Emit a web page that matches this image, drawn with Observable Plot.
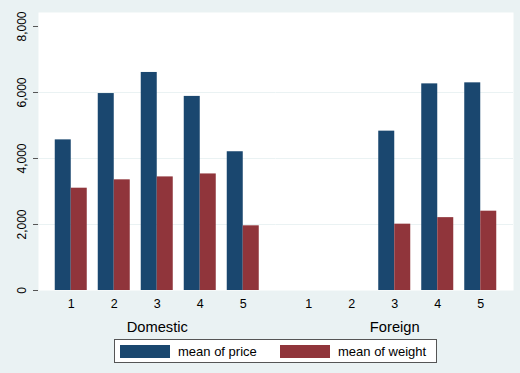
<!DOCTYPE html>
<html>
<head>
<meta charset="utf-8">
<script src="https://cdn.jsdelivr.net/npm/d3@7"></script>
<script src="https://cdn.jsdelivr.net/npm/@observablehq/plot@0.6"></script>
<style>
  html, body { margin: 0; padding: 0; background: #eaf2f3; }
  #wrap { position: relative; width: 520px; height: 373px; background: #eaf2f3; font-family: "Liberation Sans", Arial, sans-serif; overflow: hidden; }
  #chart svg { display: block; background: transparent; }
  #legend { position: absolute; left: 114px; top: 339px; width: 321px; height: 22px; background: #fff; border: 1px solid #555; box-sizing: content-box; font-size: 13px; color: #000; }
  #legend .item { position: absolute; top: 5px; height: 13px; display: flex; align-items: center; white-space: nowrap; }
  #legend .sw { width: 50px; height: 13px; margin-right: 8px; }
</style>
</head>
<body>
<div id="wrap">
  <div id="chart"></div>
  <div id="legend"></div>
</div>
<script>
// ---- data (auto.dta: mean price / weight by rep78 over foreign) ----
const groups = ["Domestic", "Foreign"];
const repCategories = [1, 2, 3, 4, 5];
const seriesNames = ["mean of price", "mean of weight"];
const seriesColors = ["#1a476f", "#90353b"];
const domesticPrice  = [4564.5, 5967.6, 6607.1, 5881.6, 4204.5];
const domesticWeight = [3100.0, 3353.8, 3442.2, 3532.2, 1960.0];
const foreignPrice   = [null, null, 4828.7, 6261.4, 6292.7];
const foreignWeight  = [null, null, 2010.0, 2207.8, 2403.3];
const yTicks = [0, 2000, 4000, 6000, 8000];
const gridTicks = [2000, 4000, 6000];

// ---- build table ----
const table = [];
const byGroup = {
  Domestic: [domesticPrice, domesticWeight],
  Foreign: [foreignPrice, foreignWeight]
};
for (const g of groups) {
  byGroup[g].forEach((vals, si) => {
    repCategories.forEach((r, i) => {
      if (vals[i] != null) table.push({group: g, rep: r, series: seriesNames[si], value: vals[i]});
    });
  });
}
const priceRows = table.filter(d => d.series === seriesNames[0]);
const weightRows = table.filter(d => d.series === seriesNames[1]);

const fontFamily = '"Liberation Sans", Arial, sans-serif';

const chart = Plot.plot({
  width: 520,
  height: 335,
  marginLeft: 38,
  marginRight: 7,
  marginTop: 12,
  marginBottom: 45,
  style: { fontFamily, background: "transparent", color: "#000", overflow: "visible" },
  fx: { domain: groups, padding: 0, round: false },
  x: { domain: repCategories, paddingInner: 11 / 43, paddingOuter: 0.3895, round: false },
  y: { domain: [0, 8424] },
  marks: [
    Plot.frame({ fill: "white", stroke: null }),
    Plot.gridY(gridTicks, { stroke: "#eaf2f3", strokeOpacity: 1, strokeWidth: 1 }),
    Plot.barY(priceRows, { fx: "group", x: "rep", y: "value", fill: seriesColors[0], insetRight: 16 }),
    Plot.barY(weightRows, { fx: "group", x: "rep", y: "value", fill: seriesColors[1], insetLeft: 16 }),
    Plot.axisY({
      ticks: yTicks,
      tickFormat: d3.format(","),
      tickSize: 5,
      tickRotate: -90,
      tickPadding: 8,
      fontSize: 12,
      stroke: "#555",
      line: true,
      label: null
    }),
    Plot.axisX({ tickSize: 0, tickPadding: 9, fontSize: 12.5, stroke: "#555", line: true, label: null }),
    Plot.axisFx({ anchor: "bottom", tickSize: 0, tickPadding: 31, fontSize: 14.7, label: null })
  ]
});
document.getElementById("chart").appendChild(chart);

// ---- legend ----
const legend = document.getElementById("legend");
const legendLefts = [5, 165];
seriesNames.forEach((name, i) => {
  const item = document.createElement("div");
  item.className = "item";
  item.style.left = legendLefts[i] + "px";
  const sw = document.createElement("span");
  sw.className = "sw";
  sw.style.background = seriesColors[i];
  const tx = document.createElement("span");
  tx.textContent = name;
  item.appendChild(sw);
  item.appendChild(tx);
  legend.appendChild(item);
});
</script>
</body>
</html>
